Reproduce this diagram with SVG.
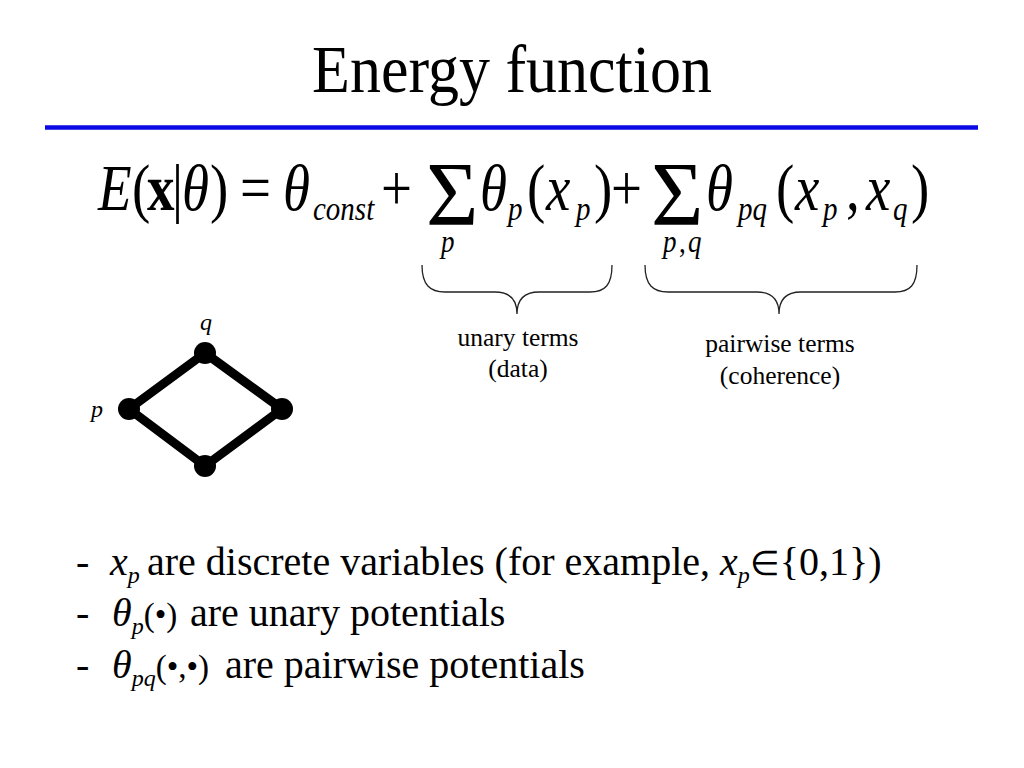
<svg xmlns="http://www.w3.org/2000/svg" width="1024" height="768" viewBox="0 0 1024 768">
<style>
text{font-family:"Liberation Serif","Times New Roman",serif;fill:#000}
.i{font-style:italic}
.b{font-weight:bold}
.brace{fill:none;stroke:#222;stroke-width:1.3}
.edge{stroke:#000;stroke-width:9;stroke-linecap:round}
.node{fill:#000}
</style>
<rect width="1024" height="768" fill="#fff"/>
<g id="title">
<text transform="translate(512,92) scale(1,1.1)" text-anchor="middle" font-size="62">Energy function</text>
<line x1="45" y1="127.5" x2="978" y2="127.5" stroke="#0a0ae6" stroke-width="4.5"/>
</g>
<g id="equation">
<g transform="translate(0,210) scale(1,1.18)" font-size="55">
<text x="98" y="0" class="i">E</text>
<text x="132" y="0">(</text>
<text x="147" y="0" class="b">x</text>
<text x="172" y="0">|</text>
<text x="182" y="0" class="i">θ</text>
<text x="210" y="0">)</text>
<text x="240" y="0">=</text>
<text x="283" y="0" class="i">θ</text>
<text x="313" y="8.5" class="i" font-size="29">const</text>
<text x="381" y="0">+</text>
<text x="480" y="0" class="i">θ</text>
<text x="508" y="8.5" class="i" font-size="29">p</text>
<text x="527" y="0">(</text>
<text x="546" y="0" class="i">x</text>
<text x="576" y="8.5" class="i" font-size="29">p</text>
<text x="594" y="0">)</text>
<text x="611" y="0">+</text>
<text x="706" y="0" class="i">θ</text>
<text x="738" y="8.5" class="i" font-size="29">pq</text>
<text x="776" y="0">(</text>
<text x="795" y="0" class="i">x</text>
<text x="823" y="8.5" class="i" font-size="29">p</text>
<text x="846" y="0">,</text>
<text x="866" y="0" class="i">x</text>
<text x="893" y="8.5" class="i" font-size="29">q</text>
<text x="911" y="0">)</text>
<text x="441" y="36" class="i" font-size="27">p</text>
<text y="36" font-size="27"><tspan x="663" class="i">p</tspan><tspan x="679">,</tspan><tspan x="688" class="i">q</tspan></text>
</g>
<text x="426" y="225" font-size="90">Σ</text>
<text x="651" y="225" font-size="90">Σ</text>
</g>
<g id="unary-brace">
<path class="brace" d="M422,265 C422,285 430,292 445,292 L495,292 C510,292 517,300 517,314 C517,300 524,292 539,292 L590,292 C605,292 612,285 612,265"/>
<text x="518" y="346" text-anchor="middle" font-size="25.5">unary terms</text>
<text x="518" y="377" text-anchor="middle" font-size="25.5">(data)</text>
</g>
<g id="pairwise-brace">
<path class="brace" d="M645,265 C645,285 653,292 668,292 L757,292 C772,292 779,300 779,314 C779,300 786,292 801,292 L895,292 C910,292 917,285 917,265"/>
<text x="780" y="352" text-anchor="middle" font-size="25.5">pairwise terms</text>
<text x="780" y="384" text-anchor="middle" font-size="25.5">(coherence)</text>
</g>
<g id="connectors">
<line class="edge" x1="129" y1="409" x2="205" y2="353"/>
<line class="edge" x1="205" y1="353" x2="282" y2="409"/>
<line class="edge" x1="282" y1="409" x2="205" y2="466"/>
<line class="edge" x1="205" y1="466" x2="129" y2="409"/>
</g>
<g id="node-p"><circle class="node" cx="129" cy="409" r="11"/><text x="91" y="417" class="i" font-size="24">p</text></g>
<g id="node-q"><circle class="node" cx="205" cy="353" r="11"/><text x="200" y="330" class="i" font-size="24">q</text></g>
<g id="node-r"><circle class="node" cx="282" cy="409" r="11"/></g>
<g id="node-s"><circle class="node" cx="205" cy="466" r="11"/></g>
<g id="bullets" font-size="40">
<text x="76" y="575">-</text>
<text y="575"><tspan x="110" class="i">x</tspan><tspan class="i" font-size="24" dy="8">p </tspan><tspan x="147" dy="-8">are discrete variables (for example, </tspan><tspan class="i">x</tspan><tspan class="i" font-size="24" dy="8">p</tspan><tspan dy="-8" font-size="34">∈</tspan><tspan>{0,1})</tspan></text>
<text x="76" y="626">-</text>
<text y="626"><tspan x="112" class="i">θ</tspan><tspan class="i" font-size="24" dy="8">p</tspan><tspan dy="-8" font-size="33">(•) </tspan><tspan x="190">are unary potentials</tspan></text>
<text x="76" y="678">-</text>
<text y="678"><tspan x="112" class="i">θ</tspan><tspan class="i" font-size="24" dy="8">pq</tspan><tspan dy="-8" font-size="33">(•,•) </tspan><tspan x="225">are pairwise potentials</tspan></text>
</g>
</svg>
